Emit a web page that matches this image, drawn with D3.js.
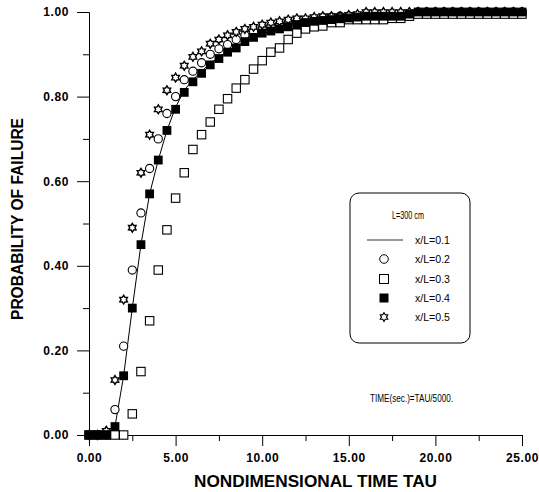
<!DOCTYPE html>
<html>
<head>
<meta charset="utf-8">
<script src="https://cdn.jsdelivr.net/npm/d3@7"></script>
<style>
  body { margin: 0; background: #fff; }
  svg { display: block; font-family: "Liberation Sans", Arial, sans-serif; }
  .axis path, .axis line { stroke: #000; stroke-width: 1; }
  .axis text { font-size: 12px; font-weight: bold; fill: #000; letter-spacing: 0.6px; }
</style>
</head>
<body>
<svg id="chart" width="539" height="492"></svg>
<script>
// nondimensional time tau
const tau = [0, 0.5, 1, 1.5, 2, 2.5, 3, 3.5, 4, 4.5,
  5, 5.5, 6, 6.5, 7, 7.5, 8, 8.5, 9, 9.5,
  10, 10.5, 11, 11.5, 12, 12.5, 13, 13.5, 14, 14.5,
  15, 15.5, 16, 16.5, 17, 17.5, 18, 18.5, 19, 19.5,
  20, 20.5, 21, 21.5, 22, 22.5, 23, 23.5, 24, 24.5, 25];

// probability of failure for each x/L
const p01 = [0, 0, 0, 0.02, 0.14, 0.30, 0.45, 0.57, 0.65, 0.72,
  0.775, 0.815, 0.84, 0.86, 0.878, 0.893, 0.907, 0.918, 0.93, 0.94,
  0.948, 0.955, 0.962, 0.967, 0.972, 0.976, 0.979, 0.982, 0.984, 0.986,
  0.988, 0.99, 0.99, 0.992, 0.993, 0.994, 0.995, 0.996, 0.997, 0.998,
  0.998, 0.999, 0.999, 1, 1, 1, 1, 1, 1, 1, 1];
const p02 = [0, 0, 0, 0.06, 0.21, 0.39, 0.525, 0.63, 0.70, 0.76,
  0.80, 0.84, 0.86, 0.88, 0.90, 0.913, 0.923, 0.935, 0.945, 0.953,
  0.96, 0.965, 0.97, 0.975, 0.978, 0.98, 0.983, 0.985, 0.988, 0.99,
  0.99, 0.99, 0.99, 0.99, 0.99, 0.99, 0.99, 0.99, 1, 1,
  1, 1, 1, 1, 1, 1, 1, 1, 1, 1, 1];
const p03 = [0, 0, 0, 0, 0, 0.05, 0.15, 0.27, 0.39, 0.485,
  0.56, 0.62, 0.675, 0.71, 0.74, 0.77, 0.795, 0.82, 0.84, 0.865,
  0.885, 0.905, 0.915, 0.935, 0.95, 0.96, 0.965, 0.967, 0.975, 0.975,
  0.982, 0.982, 0.982, 0.982, 0.982, 0.985, 0.985, 0.99, 0.995, 0.995,
  0.995, 0.995, 0.995, 0.995, 0.995, 0.995, 0.995, 0.995, 0.995, 0.995, 0.995];
const p04 = [0, 0, 0, 0.02, 0.14, 0.30, 0.45, 0.57, 0.65, 0.72,
  0.77, 0.81, 0.835, 0.855, 0.875, 0.89, 0.905, 0.915, 0.93, 0.94,
  0.95, 0.955, 0.96, 0.965, 0.97, 0.975, 0.978, 0.98, 0.982, 0.984,
  0.986, 0.988, 0.99, 0.99, 0.99, 0.99, 0.99, 0.995, 1, 1,
  1, 1, 1, 1, 1, 1, 1, 1, 1, 1, 1];
const p05 = [0, 0, 0.01, 0.13, 0.32, 0.49, 0.62, 0.71, 0.77, 0.815,
  0.845, 0.873, 0.894, 0.907, 0.925, 0.935, 0.945, 0.953, 0.96, 0.965,
  0.97, 0.975, 0.978, 0.982, 0.985, 0.985, 0.988, 0.99, 0.99, 0.99,
  0.993, 0.995, 1, 1, 1, 1, 1, 1, 1, 1,
  1, 1, 1, 1, 1, 1, 1, 1, 1, 1, 1];

const xMajor = [0, 5, 10, 15, 20, 25];
const xMinor = [2.5, 7.5, 12.5, 17.5, 22.5];
const yMajor = [0, 0.2, 0.4, 0.6, 0.8, 1.0];
const yMinor = [0.1, 0.3, 0.5, 0.7, 0.9];
const legendLabels = ["x/L=0.1", "x/L=0.2", "x/L=0.3", "x/L=0.4", "x/L=0.5"];

const svg = d3.select("#chart");

const x = d3.scaleLinear().domain([0, 25]).range([89, 522]);
const y = d3.scaleLinear().domain([0, 1]).range([435, 12]);

const fmt = d3.format(".2f");

// axes
svg.append("g")
    .attr("class", "axis")
    .attr("transform", `translate(0,${y(0)})`)
    .call(d3.axisBottom(x).tickValues(xMajor).tickSize(11).tickSizeOuter(0)
        .tickPadding(7).tickFormat(fmt));
svg.append("g")
    .attr("class", "axis")
    .attr("transform", `translate(0,${y(0)})`)
    .call(d3.axisBottom(x).tickValues(xMinor).tickSize(6).tickSizeOuter(0).tickFormat(""));

svg.append("g")
    .attr("class", "axis")
    .attr("transform", `translate(${x(0)},0)`)
    .call(d3.axisLeft(y).tickValues(yMajor).tickSize(12).tickSizeOuter(0)
        .tickPadding(8).tickFormat(fmt));
svg.append("g")
    .attr("class", "axis")
    .attr("transform", `translate(${x(0)},0)`)
    .call(d3.axisLeft(y).tickValues(yMinor).tickSize(6).tickSizeOuter(0).tickFormat(""));

// axis titles
svg.append("text")
    .attr("x", 194)
    .attr("y", 487)
    .attr("textLength", 243)
    .attr("lengthAdjust", "spacingAndGlyphs")
    .style("font-size", "16px")
    .style("font-weight", "bold")
    .text("NONDIMENSIONAL TIME TAU");

svg.append("text")
    .attr("transform", "translate(23,320) rotate(-90)")
    .attr("textLength", 202)
    .attr("lengthAdjust", "spacingAndGlyphs")
    .style("font-size", "16px")
    .style("font-weight", "bold")
    .text("PROBABILITY OF FAILURE");

// star of david marker
function starPath(r) {
  const pts = [];
  for (let i = 0; i < 12; i++) {
    const a = -Math.PI / 2 + i * Math.PI / 6;
    const rr = i % 2 === 0 ? r : r * 0.6;
    pts.push([rr * Math.cos(a), rr * Math.sin(a)]);
  }
  return "M" + pts.map(p => p[0].toFixed(2) + "," + p[1].toFixed(2)).join("L") + "Z";
}

const lineGen = d3.line()
    .x((d, i) => x(tau[i]))
    .y(d => y(d));

// x/L=0.1 line
svg.append("path")
    .datum(p01)
    .attr("d", lineGen)
    .attr("fill", "none")
    .attr("stroke", "#000")
    .attr("stroke-width", 1);

// x/L=0.2 circles
svg.append("g").selectAll("circle")
    .data(p02)
    .enter().append("circle")
    .attr("cx", (d, i) => x(tau[i]))
    .attr("cy", d => y(d))
    .attr("r", 4.1)
    .attr("fill", "#fff")
    .attr("stroke", "#000")
    .attr("stroke-width", 1.1);

// x/L=0.5 stars
svg.append("g").selectAll("path")
    .data(p05)
    .enter().append("path")
    .attr("d", starPath(4.4))
    .attr("transform", (d, i) => `translate(${x(tau[i])},${y(d)})`)
    .attr("fill", "#fff")
    .attr("stroke", "#000")
    .attr("stroke-width", 1.4);

// x/L=0.3 open squares
svg.append("g").selectAll("rect")
    .data(p03)
    .enter().append("rect")
    .attr("x", (d, i) => x(tau[i]) - 4.2)
    .attr("y", d => y(d) - 4.2)
    .attr("width", 8.4)
    .attr("height", 8.4)
    .attr("fill", "#fff")
    .attr("stroke", "#000")
    .attr("stroke-width", 1.1);

// x/L=0.4 filled squares
svg.append("g").selectAll("rect")
    .data(p04)
    .enter().append("rect")
    .attr("x", (d, i) => x(tau[i]) - 4.4)
    .attr("y", d => y(d) - 4.4)
    .attr("width", 8.8)
    .attr("height", 8.8)
    .attr("fill", "#000");

// legend
const legend = svg.append("g");
legend.append("rect")
    .attr("x", 350).attr("y", 193)
    .attr("width", 120).attr("height", 150)
    .attr("rx", 9)
    .attr("fill", "#fff")
    .attr("stroke", "#000")
    .attr("stroke-width", 1);

legend.append("text")
    .attr("x", 392).attr("y", 219)
    .attr("textLength", 32)
    .attr("lengthAdjust", "spacingAndGlyphs")
    .style("font-size", "11px")
    .text("L=300 cm");

const rowY = [240, 259, 279, 298, 317];

legend.append("line")
    .attr("x1", 367).attr("x2", 403)
    .attr("y1", rowY[0]).attr("y2", rowY[0])
    .attr("stroke", "#000").attr("stroke-width", 0.8);
legend.append("circle")
    .attr("cx", 384).attr("cy", rowY[1]).attr("r", 4.3)
    .attr("fill", "#fff").attr("stroke", "#000").attr("stroke-width", 1);
legend.append("rect")
    .attr("x", 379.5).attr("y", rowY[2] - 4.5).attr("width", 9).attr("height", 9)
    .attr("fill", "#fff").attr("stroke", "#000").attr("stroke-width", 1);
legend.append("rect")
    .attr("x", 379.5).attr("y", rowY[3] - 4.5).attr("width", 9).attr("height", 9)
    .attr("fill", "#000");
legend.append("path")
    .attr("d", starPath(4.3))
    .attr("transform", `translate(384,${rowY[4]})`)
    .attr("fill", "#fff").attr("stroke", "#000").attr("stroke-width", 1.2);

legend.selectAll("text.lab")
    .data(legendLabels)
    .enter().append("text")
    .attr("class", "lab")
    .attr("x", 415)
    .attr("y", (d, i) => rowY[i] + 3.5)
    .attr("textLength", 35)
    .attr("lengthAdjust", "spacingAndGlyphs")
    .style("font-size", "10.5px")
    .text(d => d);

// time note
svg.append("text")
    .attr("x", 370).attr("y", 402)
    .attr("textLength", 83)
    .attr("lengthAdjust", "spacingAndGlyphs")
    .style("font-size", "11px")
    .text("TIME(sec.)=TAU/5000.");
</script>
</body>
</html>
